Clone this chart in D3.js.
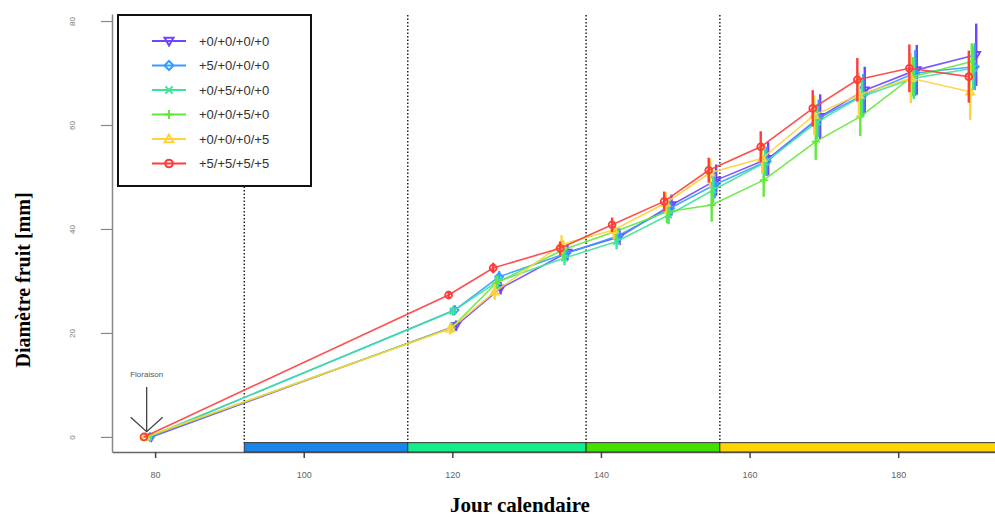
<!DOCTYPE html>
<html>
<head>
<meta charset="utf-8">
<script src="https://cdn.jsdelivr.net/npm/d3@7"></script>
<style>
  html, body { margin: 0; padding: 0; background: #fff; }
  svg { display: block; }
</style>
</head>
<body>
<svg id="chart" width="995" height="519"></svg>
<script>
// Sampling days (calendar day of year)
const days = [79, 120, 126, 135, 142, 149, 155, 162, 169, 175, 182, 190];

// Treatment labels and colours
const treatments = ["+0/+0/+0/+0", "+5/+0/+0/+0", "+0/+5/+0/+0", "+0/+0/+5/+0", "+0/+0/+0/+5", "+5/+5/+5/+5"];
const colors = ["#6f45ff", "#3a9cff", "#3ee39a", "#62e83a", "#ffd23a", "#ff3b3b"];
const symbols = ["triDown", "diamond", "cross", "plus", "triUp", "circle"];
const dayShift = [0.5, 0.3, 0.1, -0.1, -0.3, -0.5];

// Mean fruit diameter (mm) per treatment
const mean0000 = [0, 21.4, 28.6, 35.5, 38.5, 44.6, 49.4, 53.5, 61.6, 66.7, 70.6, 73.5];
const mean5000 = [0, 24.4, 30.8, 35.3, 38.7, 44.0, 48.5, 53.0, 61.3, 65.8, 70.0, 71.2];
const mean0500 = [0, 24.2, 29.9, 34.4, 37.6, 42.7, 47.5, 52.8, 60.6, 65.5, 69.0, 70.9];
const mean0050 = [0, 21.0, 29.6, 36.0, 39.5, 43.3, 44.6, 49.4, 56.8, 61.6, 69.3, 72.2];
const mean0005 = [0, 20.8, 27.9, 37.0, 39.8, 45.0, 50.8, 53.6, 61.9, 65.8, 69.0, 66.4];
const mean5555 = [0, 27.3, 32.5, 36.3, 40.8, 45.3, 51.3, 55.8, 63.2, 68.7, 70.9, 69.3];

// Standard deviations (mm)
const sd0000 = [0, 1.0, 1.2, 1.5, 1.6, 2.0, 3.0, 3.2, 4.3, 4.5, 4.8, 6.0];
const sd5000 = [0, 0.9, 1.1, 1.3, 1.5, 1.8, 2.6, 2.8, 3.6, 4.0, 4.4, 4.5];
const sd0500 = [0, 0.9, 1.2, 1.4, 1.5, 1.8, 2.5, 2.6, 3.4, 3.6, 4.0, 4.2];
const sd0050 = [0, 1.0, 1.3, 1.8, 1.6, 2.2, 3.2, 3.2, 3.5, 3.7, 3.8, 3.5];
const sd0005 = [0, 1.1, 1.5, 1.8, 1.7, 2.1, 2.8, 3.0, 3.8, 4.3, 4.8, 5.4];
const sd5555 = [0, 0.8, 1.0, 1.3, 1.4, 1.9, 2.4, 3.0, 3.5, 4.2, 4.6, 5.0];

const means = [mean0000, mean5000, mean0500, mean0050, mean0005, mean5555];
const sds = [sd0000, sd5000, sd0500, sd0050, sd0005, sd5555];

// Phenological phase boundaries (days) and colours
const phaseBounds = [92, 114, 138, 156, 200];
const phaseColors = ["#1a86ea", "#12ee8a", "#46e000", "#ffd400"];

// Axis ticks
const xTicks = [80, 100, 120, 140, 160, 180];
const yTicks = [0, 20, 40, 60, 80];

const svg = d3.select("#chart");
const plotLeft = 112, plotRight = 1000, plotTop = 14, plotBottom = 452;

const x = d3.scaleLinear().domain([74.2, 193.7]).range([plotLeft, plotRight]);
const y = d3.scaleLinear().domain([-2.9, 81.35]).range([plotBottom, plotTop]);

svg.append("defs").append("clipPath").attr("id", "plotClip")
  .append("rect").attr("x", plotLeft).attr("y", plotTop)
  .attr("width", plotRight - plotLeft).attr("height", plotBottom - plotTop);

// Axes
const xAxis = svg.append("g").attr("transform", `translate(0,${plotBottom})`)
  .call(d3.axisBottom(x).tickValues(xTicks).tickSize(6).tickPadding(14).tickSizeOuter(0));
xAxis.select(".domain").attr("stroke", "#666").attr("stroke-width", 1.5);
xAxis.selectAll(".tick line").attr("stroke", "#444").attr("stroke-width", 1.5);
xAxis.selectAll(".tick text").attr("fill", "#666").attr("font-family", "Liberation Sans, Arial, sans-serif").attr("font-size", 9);

const yAxis = svg.append("g").attr("transform", `translate(${plotLeft},0)`)
  .call(d3.axisLeft(y).tickValues(yTicks).tickSize(11).tickSizeOuter(0));
yAxis.select(".domain").attr("stroke", "#888").attr("stroke-width", 1.5);
yAxis.selectAll(".tick line").attr("stroke", "#888").attr("stroke-width", 1.2);
// Labels run parallel to the axis
yAxis.selectAll(".tick text")
  .attr("fill", "#777")
  .attr("font-family", "Liberation Sans, Arial, sans-serif")
  .attr("font-size", 8)
  .attr("x", 0).attr("y", 0).attr("dy", "0.35em")
  .attr("text-anchor", "middle")
  .attr("transform", "translate(-40,0) rotate(-90)");

// Phase bar along the bottom
const barTop = y(-1.1);
svg.append("g").selectAll("rect")
  .data(phaseColors)
  .join("rect")
  .attr("x", (d, i) => x(phaseBounds[i]))
  .attr("y", barTop)
  .attr("width", (d, i) => Math.min(x(phaseBounds[i + 1]), plotRight) - x(phaseBounds[i]))
  .attr("height", plotBottom - barTop)
  .attr("fill", d => d)
  .attr("stroke", "#333")
  .attr("stroke-width", 1);

// Dotted phase separators
svg.append("g").selectAll("line")
  .data(phaseBounds.slice(0, 4))
  .join("line")
  .attr("x1", d => x(d)).attr("x2", d => x(d))
  .attr("y1", plotTop + 1).attr("y2", barTop)
  .attr("stroke", "#222").attr("stroke-width", 1.5)
  .attr("stroke-dasharray", "1.5,2");

// Symbol drawing
function symbolPath(kind, s) {
  switch (kind) {
    case "triDown": return `M${-s},${-s * 0.7}L${s},${-s * 0.7}L0,${s}Z`;
    case "triUp": return `M${-s},${s * 0.7}L${s},${s * 0.7}L0,${-s}Z`;
    case "diamond": return `M0,${-s}L${s},0L0,${s}L${-s},0Z`;
    case "cross": return `M${-s * 0.8},${-s * 0.8}L${s * 0.8},${s * 0.8}M${-s * 0.8},${s * 0.8}L${s * 0.8},${-s * 0.8}`;
    case "plus": return `M${-s},0L${s},0M0,${-s}L0,${s}`;
    case "circle": return `M${s * 0.85},0A${s * 0.85},${s * 0.85} 0 1,1 ${-s * 0.85},0A${s * 0.85},${s * 0.85} 0 1,1 ${s * 0.85},0Z`;
  }
}

const plot = svg.append("g").attr("clip-path", "url(#plotClip)");
const line = d3.line().x(d => x(d.day)).y(d => y(d.v));

treatments.forEach((name, k) => {
  const pts = days.map((d, i) => ({ day: d + dayShift[k], v: means[k][i], sd: sds[k][i] }));
  const g = plot.append("g");
  g.append("path").datum(pts)
    .attr("d", line).attr("fill", "none")
    .attr("stroke", colors[k]).attr("stroke-width", 1.6).attr("stroke-opacity", 0.9);
  g.selectAll("line.err").data(pts.filter(p => p.sd > 0)).join("line")
    .attr("class", "err")
    .attr("x1", p => x(p.day)).attr("x2", p => x(p.day))
    .attr("y1", p => y(p.v - p.sd)).attr("y2", p => y(p.v + p.sd))
    .attr("stroke", colors[k]).attr("stroke-width", 2.4);
  g.selectAll("path.sym").data(pts).join("path")
    .attr("class", "sym")
    .attr("transform", p => `translate(${x(p.day)},${y(p.v)})`)
    .attr("d", symbolPath(symbols[k], 4))
    .attr("fill", "none").attr("stroke", colors[k]).attr("stroke-width", 1.8);
});

// Flowering annotation
const flo = svg.append("g");
const floX = x(days[0]) - 1;
flo.append("text").attr("x", floX).attr("y", y(11.5))
  .attr("text-anchor", "middle").attr("font-size", 8)
  .attr("font-family", "Liberation Sans, Arial, sans-serif").attr("fill", "#555")
  .text("Floraison");
flo.append("path")
  .attr("d", `M${floX},${y(9.6)}L${floX},${y(1.0)}M${floX - 16},${y(3.8)}L${floX},${y(1.0)}L${floX + 16},${y(3.8)}`)
  .attr("fill", "none").attr("stroke", "#444").attr("stroke-width", 1.3);

// Legend
const lg = svg.append("g");
lg.append("rect").attr("x", 118).attr("y", 15).attr("width", 193).attr("height", 171)
  .attr("fill", "#fff").attr("stroke", "#111").attr("stroke-width", 2);
treatments.forEach((name, k) => {
  const ly = 41 + k * 24.5;
  lg.append("line").attr("x1", 152).attr("x2", 186).attr("y1", ly).attr("y2", ly)
    .attr("stroke", colors[k]).attr("stroke-width", 2.2);
  lg.append("path").attr("transform", `translate(169,${ly})`)
    .attr("d", symbolPath(symbols[k], 4.5))
    .attr("fill", "none").attr("stroke", colors[k]).attr("stroke-width", 2);
  lg.append("text").attr("x", 199).attr("y", ly).attr("dy", "0.35em")
    .attr("font-family", "Liberation Sans, Arial, sans-serif").attr("font-size", 13)
    .attr("fill", "#333").text(name);
});

// Axis titles
svg.append("text").attr("x", 520).attr("y", 512)
  .attr("text-anchor", "middle")
  .attr("font-family", "Liberation Serif, Times New Roman, serif")
  .attr("font-weight", "bold").attr("font-size", 21).attr("fill", "#000")
  .text("Jour calendaire");
svg.append("text")
  .attr("transform", "translate(30,280) rotate(-90)")
  .attr("text-anchor", "middle")
  .attr("font-family", "Liberation Serif, Times New Roman, serif")
  .attr("font-weight", "bold").attr("font-size", 20).attr("fill", "#000")
  .text("Diamètre fruit [mm]");
</script>
</body>
</html>
